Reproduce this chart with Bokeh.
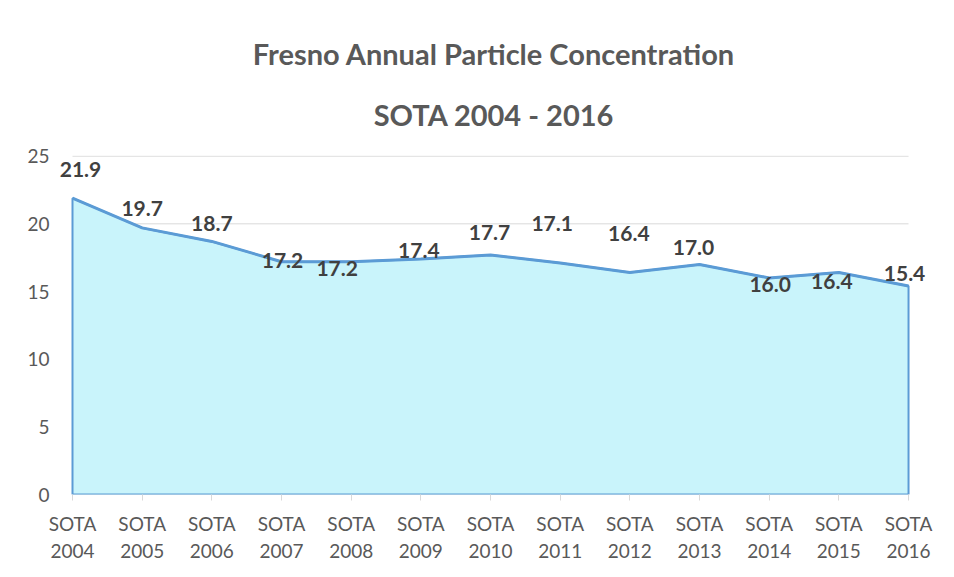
from bokeh.plotting import figure
from bokeh.models import Range1d, FixedTicker, Title, LabelSet, ColumnDataSource
from bokeh.core.properties import value
from bokeh.embed import file_html
from bokeh.resources import INLINE

# ---- data ----
categories = ["SOTA\n2004", "SOTA\n2005", "SOTA\n2006", "SOTA\n2007", "SOTA\n2008",
              "SOTA\n2009", "SOTA\n2010", "SOTA\n2011", "SOTA\n2012", "SOTA\n2013",
              "SOTA\n2014", "SOTA\n2015", "SOTA\n2016"]
values = [21.9, 19.7, 18.7, 17.2, 17.2, 17.4, 17.7, 17.1, 16.4, 17.0, 16.0, 16.4, 15.4]
y_ticks = [0, 5, 10, 15, 20, 25]
title_lines = ["Fresno Annual Particle Concentration", "SOTA 2004 - 2016"]

# label placement nudges (pixels, screen: +y is up for LabelSet), layout only
label_dx = [8, 0, 0, 1, -14, -2, -1, -8, -1, -6, 1, -7, -4]
label_dy = [29, 19, 18, 1, -7, 9, 22, 40, 39, 17, -7, -9, 13]

xs = list(range(len(values)))
FONT = "Lato"

p = figure(width=946, height=569, output_backend="svg", toolbar_location=None,
           x_range=Range1d(xs[0] - 0.244, xs[-1] + 0.344), y_range=Range1d(0, 25.05),
           min_border_left=55, min_border_right=14, min_border_top=155,
           min_border_bottom=75)
p.background_fill_color = "white"
p.border_fill_color = "white"
p.outline_line_color = None

# gridlines spanning only the category extent
p.segment(x0=[xs[0]] * len(y_ticks), x1=[xs[-1]] * len(y_ticks), y0=y_ticks, y1=y_ticks,
          line_color="#d9d9d9", line_width=1)

# area
poly_x = [xs[0]] + xs + [xs[-1]]
poly_y = [0] + values + [0]
p.patch(poly_x, poly_y, fill_color="#c9f4fb", line_color="#5b9bd5", line_width=2)
p.line(xs, values, line_color="#5b9bd5", line_width=3)

# data labels
src = ColumnDataSource(dict(x=xs, y=values, t=[f"{v:.1f}" for v in values],
                            dx=label_dx, dy=label_dy))
p.add_layout(LabelSet(x="x", y="y", text="t", x_offset="dx", y_offset="dy", source=src,
                      text_font=value(FONT), text_font_style="bold", text_font_size="21px",
                      text_color="#404040", text_align="center", text_baseline="middle"))

# axes
p.xaxis.ticker = FixedTicker(ticks=xs)
p.xaxis.major_label_overrides = {i: c for i, c in enumerate(categories)}
p.xaxis.major_label_text_font = FONT
p.xaxis.major_label_text_font_size = "19px"
p.xaxis.major_label_text_color = "#595959"
p.xaxis.major_label_standoff = 11
p.xaxis.axis_line_color = None
p.xaxis.major_tick_line_color = "#d9d9d9"
p.xaxis.major_tick_in = 0
p.xaxis.major_tick_out = 6
p.xaxis.minor_tick_line_color = None

p.yaxis.ticker = FixedTicker(ticks=y_ticks)
p.yaxis.major_label_text_font = FONT
p.yaxis.major_label_text_font_size = "19px"
p.yaxis.major_label_text_color = "#595959"
p.yaxis.major_label_standoff = 0
p.yaxis.axis_line_color = None
p.yaxis.major_tick_line_color = None
p.yaxis.minor_tick_line_color = None

p.xgrid.grid_line_color = None
p.ygrid.grid_line_color = None

# two-line title: second line closer to the frame
p.add_layout(Title(text=title_lines[1], align="center", text_font=FONT,
                   text_font_style="bold", text_font_size="29px", text_color="#595959",
                   text_line_height=1.0, standoff=48), "above")
p.add_layout(Title(text=title_lines[0], align="center", text_font=FONT,
                   text_font_style="bold", text_font_size="29px", text_color="#595959",
                   text_line_height=1.0, standoff=0), "above")

open("out.html", "w").write(file_html(p, INLINE))
